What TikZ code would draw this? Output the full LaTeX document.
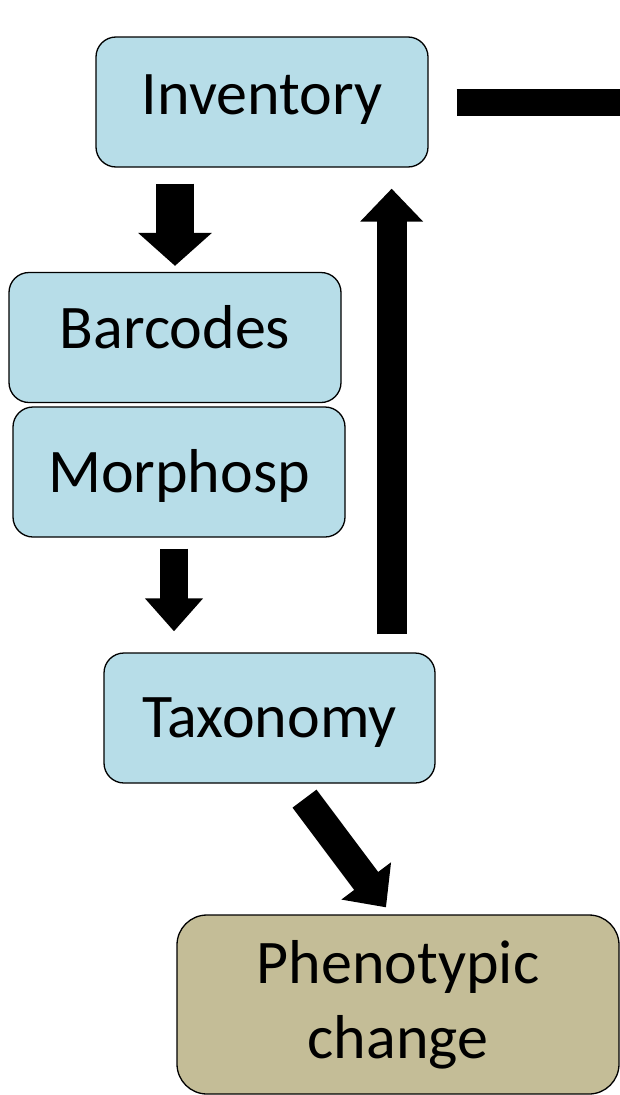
\documentclass[tikz,border=0pt]{standalone}
\usepackage{fontspec}
\setmainfont{Carlito}
\usetikzlibrary{arrows.meta, positioning}
\definecolor{boxblue}{HTML}{B7DDE8}
\definecolor{boxtan}{HTML}{C4BD97}
\tikzset{
    boxbase/.style={
        draw, line width=1.3pt, inner sep=0pt,
        font=\fontsize{62}{75}\selectfont
    },
    stagebox/.style={
        boxbase, rounded corners=20pt, fill=boxblue,
        minimum width=332pt, minimum height=130pt,
        text height=44pt, text depth=#1
    },
    stagebox/.default=20pt,
    outbox/.style={
        boxbase, fill=boxtan, rounded corners=30pt, align=center,
        minimum width=442pt, minimum height=179pt
    },
    bigarrow/.style args={#1 #2}{
        line width=#1, -{Triangle[width=#2, length=33pt]}
    },
    bigarrow/.default={30pt 60pt}
}

\begin{document}
\begin{tikzpicture}[x=1pt, y=-1pt]
    \useasboundingbox (0,0) rectangle (620,1095);
    % boxes
    \node[stagebox=20pt] (inv) at (262, 102) {Inventory};
    \node[stagebox=23pt] (bar) at (175, 337.5) {Barcodes};
    \node[stagebox=4pt] (mor) at (179, 472) {Morphosp};
    \node[stagebox=6pt, minimum width=331pt] (tax) at (269.5, 718) {Taxonomy};
    \node[outbox] (phen) at (398, 1004.5) {Phenotypic\\change};
    \coordinate (edge) at (620, 102);
    % arrows
    \draw[bigarrow={38pt 72pt}, shorten <=16pt, shorten >=6pt]
        (bar.north |- inv.south) -- (bar.north);
    \draw[bigarrow={28pt 56pt}, shorten <=11pt, shorten >=21pt]
        ([xshift=-5pt]mor.south) -- ([xshift=-5pt]mor.south |- tax.north);
    \draw[bigarrow={30pt 61pt}, shorten <=18pt, shorten >=21pt]
        ([xshift=-44pt]tax.north east) -- ([xshift=-44pt]tax.north east |- inv.south);
    \draw[bigarrow={30pt 60pt}]
        ([xshift=35pt, yshift=-15pt]tax.south) -- ([xshift=-12pt, yshift=7pt]phen.north);
    \draw[line width=27pt] ([xshift=28pt]inv.east) -- (edge);
\end{tikzpicture}
\end{document}
